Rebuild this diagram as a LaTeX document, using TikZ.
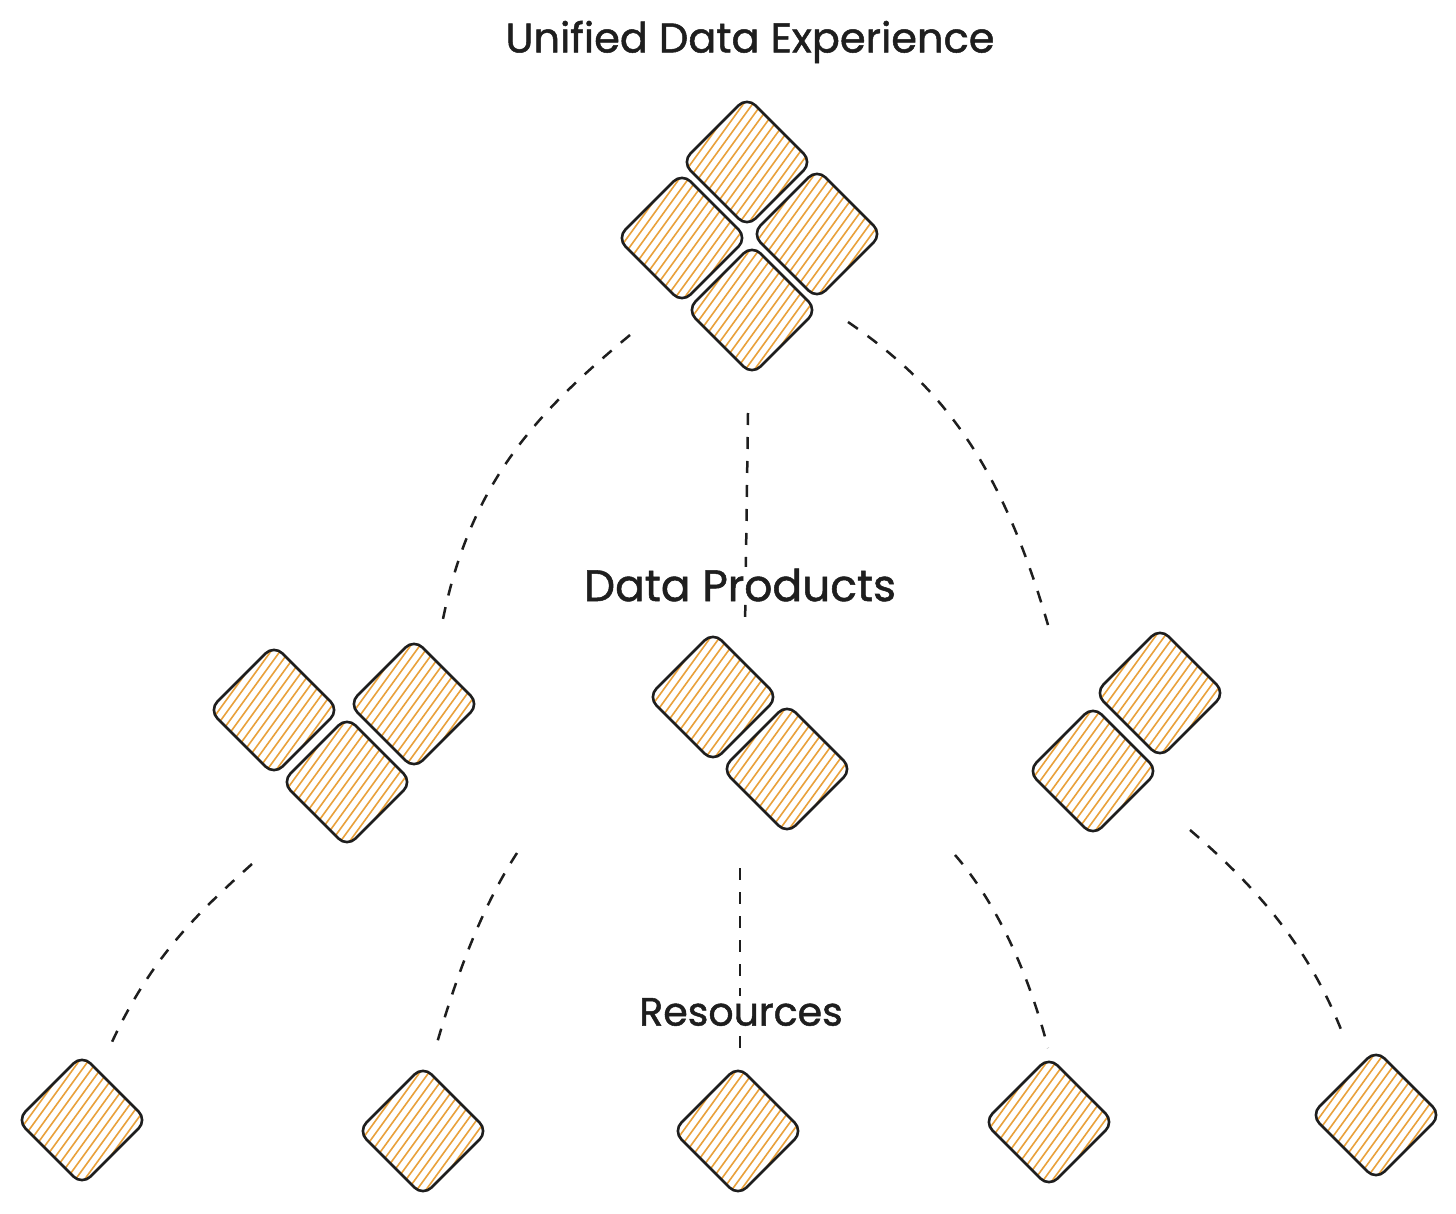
\documentclass[tikz,border=0pt]{standalone}
\usepackage{fontspec}
\newfontfamily\handfont[FakeBold=1.2]{Poppins}
\definecolor{hatchc}{HTML}{E9A13B}
\definecolor{inkc}{HTML}{1E1E1E}
\tikzset{
  tilebox/.style={draw=inkc, line width=2.6pt, rounded corners=12pt, minimum size=92pt, inner sep=0pt, outer sep=0pt, rotate=45},
  hatch/.style={draw=hatchc, line width=1.6pt},
  link/.style={draw=inkc, line width=2.5pt, dash pattern=on 12pt off 12pt},
  title/.style={text=inkc, fill=white, inner sep=2pt}
}
\newcommand\mytile[3]{%
  \begin{scope}[shift={(#2,#3)}]
    \begin{scope}
      \clip[rotate=45, rounded corners=12pt] (-46,-46) rectangle (46,46);
      \begin{scope}[rotate=54]
        \foreach \k in {-10,...,10} \draw[hatch] (-80,\k*7.4) -- (80,\k*7.4);
      \end{scope}
    \end{scope}
    \node[tilebox] (#1) at (0,0) {};
  \end{scope}}
\begin{document}
\begin{tikzpicture}[x=1pt,y=-1pt]
\fill[white] (0,0) rectangle (1456,1214);
\useasboundingbox (0,0) rectangle (1456,1214);
% top cluster
\mytile{u1}{747}{162}
\mytile{u2}{682}{238}
\mytile{u3}{817}{234}
\mytile{u4}{752}{310}
% data products, left
\mytile{pa1}{274}{710}
\mytile{pa2}{414}{704}
\mytile{pa3}{347}{782}
% data products, centre
\mytile{pb1}{713}{697}
\mytile{pb2}{787}{769}
% data products, right
\mytile{pc1}{1160}{693}
\mytile{pc2}{1093}{771}
% resources
\mytile{r1}{82}{1120}
\mytile{r2}{423}{1131}
\mytile{r3}{738}{1131}
\mytile{r4}{1049}{1122}
\mytile{r5}{1376}{1115}
% connector ends
\coordinate (l1s) at (630,335); \coordinate (l1e) at (442,624);
\coordinate (l2s) at (748,413); \coordinate (l2e) at (745,628);
\coordinate (l3s) at (848,322); \coordinate (l3e) at (1048,625);
\coordinate (l4s) at (252,864); \coordinate (l4e) at (112,1042);
\coordinate (l5s) at (517,853); \coordinate (l5e) at (435,1050);
\coordinate (l6s) at (740,868); \coordinate (l6e) at (740,1055);
\coordinate (l7s) at (955,855); \coordinate (l7e) at (1048,1048);
\coordinate (l8s) at (1190,830); \coordinate (l8e) at (1342,1032);
\draw[link] (l1s) .. controls (540,410) and (470,480) .. (l1e);
\draw[link] (l2s) -- (l2e);
\draw[link] (l3s) .. controls (940,385) and (1000,460) .. (l3e);
\draw[link] (l4s) .. controls (195,915) and (150,960) .. (l4e);
\draw[link] (l5s) .. controls (480,910) and (455,980) .. (l5e);
\draw[link] (l6s) -- (l6e);
\draw[link] (l7s) .. controls (990,895) and (1025,960) .. (l7e);
\draw[link] (l8s) .. controls (1260,890) and (1310,950) .. (l8e);
% labels
\node[title, font=\handfont\fontsize{41.5}{46}\selectfont] (lbltop) at (750,42) {Unified Data Experience};
\node[title, font=\handfont\fontsize{44}{48}\selectfont] (lblmid) at (740,585) {Data Products};
\node[title, font=\handfont\fontsize{39.5}{44}\selectfont] (lblbot) at (741,1012) {Resources};
\end{tikzpicture}
\end{document}
